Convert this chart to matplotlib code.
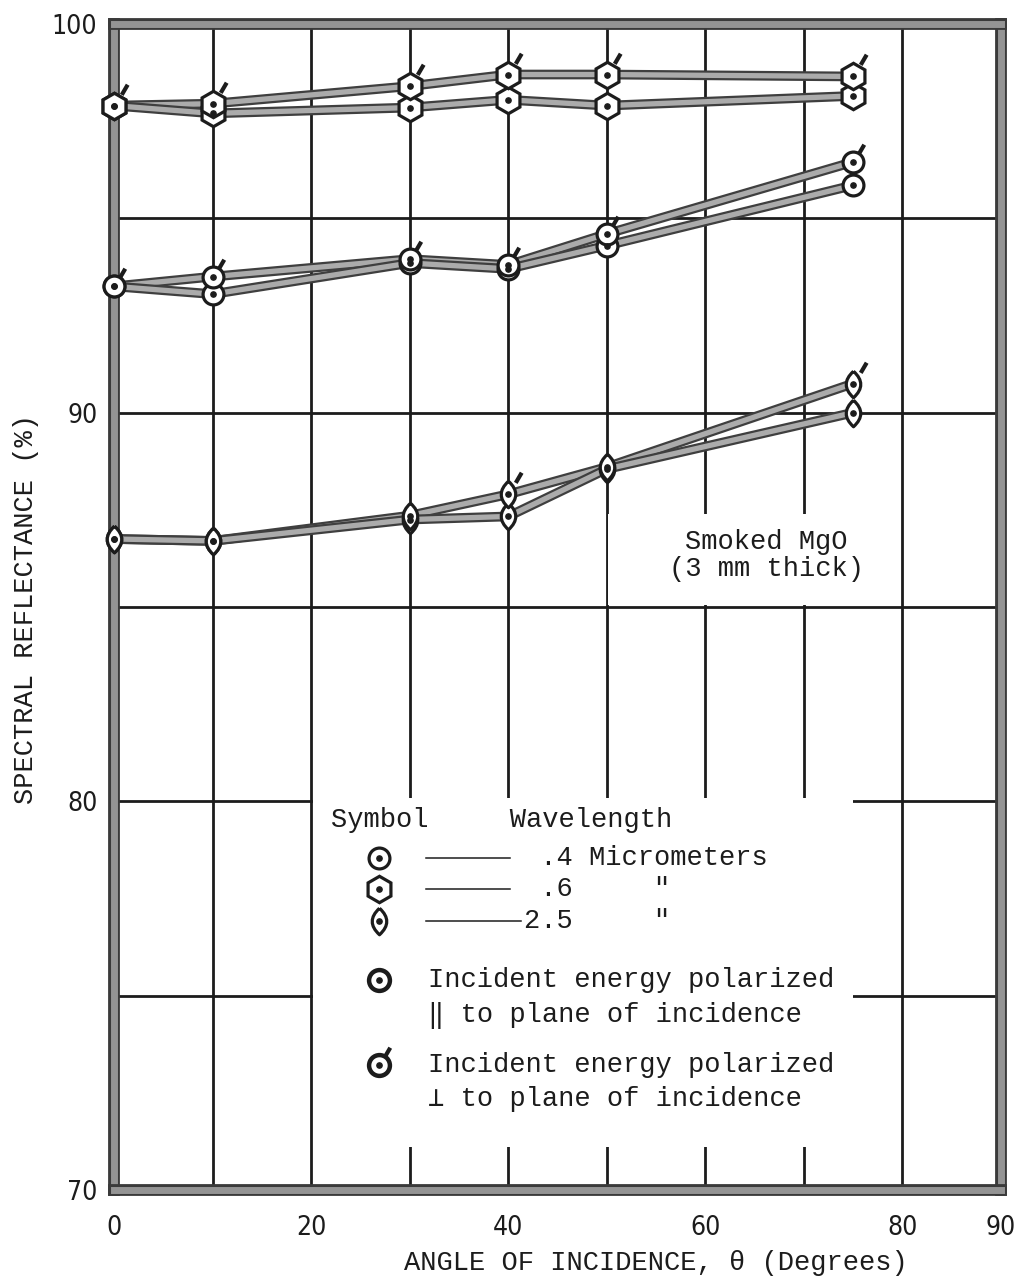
import matplotlib
matplotlib.use("Agg")
import matplotlib.pyplot as plt
import matplotlib.patheffects as pe
from matplotlib.path import Path
from matplotlib.patches import Rectangle

# angle of incidence (degrees)
angle = [0, 10, 30, 40, 50, 75]

# 0.4 micrometers (circles)
r04_perp = [93.25, 93.5, 93.95, 93.8, 94.6, 96.45]
r04_par = [93.25, 93.05, 93.85, 93.7, 94.3, 95.85]
# 0.6 micrometers (hexagons)
r06_perp = [97.9, 97.95, 98.4, 98.7, 98.7, 98.65]
r06_par = [97.9, 97.7, 97.85, 98.05, 97.9, 98.15]
# 2.5 micrometers (lens)
r25_perp = [86.75, 86.7, 87.35, 87.9, 88.6, 90.75]
r25_par = [86.75, 86.7, 87.25, 87.33, 88.55, 90.0]
r25_tick = [False, False, False, True, False, True]

x_ticks = [0, 20, 40, 60, 80, 90]
x_grid = [10, 30, 50, 70]
y_ticks = [70, 80, 90, 100]
y_grid = [75, 85, 95]

MONO = ["Liberation Mono", "DejaVu Sans Mono"]
INK = "#1c1c1c"

# marker shapes
lens = Path([(0, 1), (1.1, 0), (0, -1), (-1.1, 0), (0, 1)],
            [Path.MOVETO, Path.CURVE3, Path.CURVE3, Path.CURVE3, Path.CURVE3])
# short slash on the upper right of a symbol (perpendicular polarization)
slash = Path([(-2, -2), (0.55, 0.88), (1.0, 1.65)],
             [Path.MOVETO, Path.MOVETO, Path.LINETO])

fig = plt.figure(figsize=(10.14, 12.87), dpi=100)
ax = fig.add_axes([114 / 1014, 1 - 1190 / 1287, 887 / 1014, 1166 / 1287])
ax.set_xlim(0, 90)
ax.set_ylim(70, 100)

ax.set_xticks(x_ticks)
ax.set_xticks(x_grid, minor=True)
ax.set_yticks(y_ticks)
ax.set_yticks(y_grid, minor=True)
ax.set_axisbelow(True)
ax.grid(which="both", color=INK, lw=2.0)
ax.tick_params(which="both", length=0)
ax.tick_params(axis="x", pad=18)
ax.tick_params(axis="y", pad=12)
for lab in ax.get_xticklabels() + ax.get_yticklabels():
    lab.set_fontfamily("DejaVu Sans")
    lab.set_fontstretch("condensed")
    lab.set_fontsize(19)
    lab.set_color(INK)

for sp in ax.spines.values():
    sp.set_linewidth(5)
    sp.set_color("#949494")
    sp.set_path_effects([pe.Stroke(linewidth=8.5, foreground="#3a3a3a"), pe.Normal()])

band = [pe.Stroke(linewidth=7, foreground="#3f3f3f"), pe.Normal()]


def curve(y):
    ax.plot(angle, y, color="#ababab", lw=3.8, zorder=3, path_effects=band,
            solid_joinstyle="round", solid_capstyle="round", clip_on=False)


def symbols(y, marker, ms, ticks=None, tick_ms=None):
    ax.plot(angle, y, ls="none", marker=marker, ms=ms, mfc="white",
            mec=INK, mew=2.3, zorder=4, clip_on=False)
    ax.plot(angle, y, ls="none", marker="o", ms=3.8, color=INK, zorder=5,
            clip_on=False)
    if ticks is not None:
        xs = [a for a, t in zip(angle, ticks) if t]
        ys = [v for v, t in zip(y, ticks) if t]
        ax.plot(xs, ys, ls="none", marker=slash, ms=tick_ms, mec=INK,
                mew=3, zorder=5, clip_on=False)


for y in (r04_perp, r04_par, r06_perp, r06_par, r25_perp, r25_par):
    curve(y)

all_on = [True] * len(angle)
symbols(r06_par, "h", 19)
symbols(r06_perp, "h", 19, all_on, 38)
symbols(r04_par, "o", 15)
symbols(r04_perp, "o", 15, all_on, 31)
symbols(r25_par, lens, 21)
symbols(r25_perp, lens, 21, r25_tick, 38)

# white areas holding the annotations
ax.add_patch(Rectangle((20.2, 71.1), 54.8, 8.98, facecolor="white",
                       edgecolor="none", zorder=1))
ax.add_patch(Rectangle((50.15, 85.05), 29.7, 2.35, facecolor="white",
                       edgecolor="none", zorder=1))

ax.text(66.2, 86.33, "Smoked MgO\n(3 mm thick)", family=MONO, fontsize=19.5,
        ha="center", va="center", multialignment="center", linespacing=1.05,
        color=INK, zorder=6)

# key
ax.text(22.0, 79.52, "Symbol     Wavelength", family=MONO, fontsize=19.5,
        va="center", color=INK, zorder=6)
key_rows = [78.54, 77.75, 76.92]
key_marks = [("o", 15), ("h", 19), (lens, 21)]
key_text = [" .4 Micrometers", " .6     \"", "2.5     \""]
key_line_end = [40.18, 40.18, 41.3]
for yr, (mk, ms), txt, xe in zip(key_rows, key_marks, key_text, key_line_end):
    ax.plot([26.9], [yr], ls="none", marker=mk, ms=ms, mfc="white",
            mec=INK, mew=2.3, zorder=6)
    ax.plot([26.9], [yr], ls="none", marker="o", ms=3.8, color=INK, zorder=7)
    ax.plot([31.66, xe], [yr, yr], color=INK, lw=1.1, zorder=6)
    ax.text(41.6, yr, txt, family=MONO, fontsize=19.5, va="center",
            color=INK, zorder=6)

ax.plot([26.9], [75.40], ls="none", marker="o", ms=15, mfc="white",
        mec=INK, mew=3.2, zorder=6)
ax.plot([26.9], [75.40], ls="none", marker="o", ms=3.8, color=INK, zorder=7)
ax.text(31.86, 75.40, "Incident energy polarized", family=MONO,
        fontsize=19.5, va="center", color=INK, zorder=6)
ax.text(31.86, 74.50, "\u2016 to plane of incidence", family=MONO,
        fontsize=19.5, va="center", color=INK, zorder=6)

ax.plot([26.9], [73.21], ls="none", marker="o", ms=15, mfc="white",
        mec=INK, mew=3.2, zorder=6)
ax.plot([26.9], [73.21], ls="none", marker="o", ms=3.8, color=INK, zorder=7)
ax.plot([26.9], [73.21], ls="none", marker=slash, ms=31, mec=INK, mew=3,
        zorder=7)
ax.text(31.86, 73.21, "Incident energy polarized", family=MONO,
        fontsize=19.5, va="center", color=INK, zorder=6)
ax.text(31.86, 72.34, "\u22a5 to plane of incidence", family=MONO,
        fontsize=19.5, va="center", color=INK, zorder=6)

fig.text(656 / 1014, 1 - 1263 / 1287, "ANGLE OF INCIDENCE, \u03b8 (Degrees)",
         family=MONO, fontsize=19.5, ha="center", va="center", color=INK)
fig.text(26 / 1014, 1 - 609 / 1287, "SPECTRAL REFLECTANCE (%)",
         family=MONO, fontsize=19.5, rotation=90, ha="center", va="center",
         color=INK)

fig.savefig("out.png", dpi=100, facecolor="white")
